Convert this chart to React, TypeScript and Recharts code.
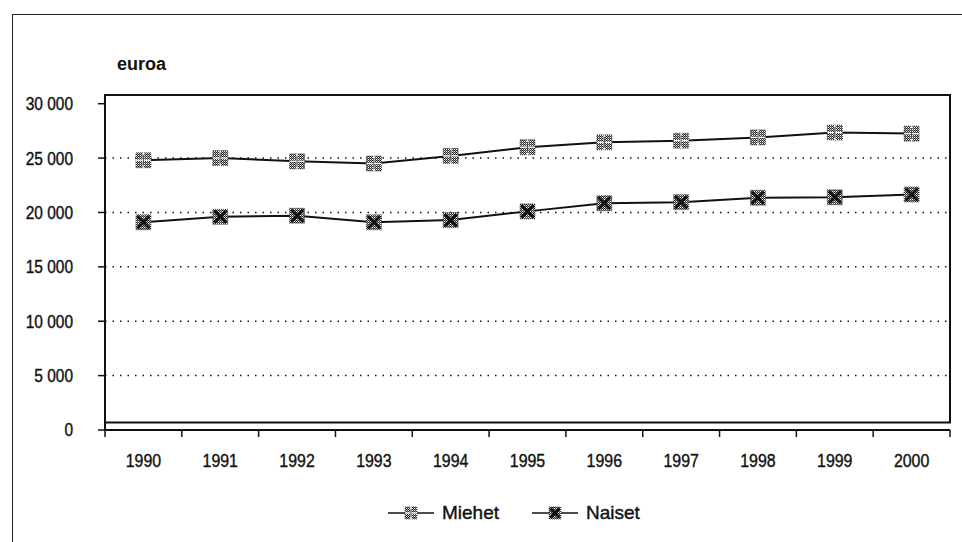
import {
  LineChart,
  Line,
  XAxis,
  YAxis,
  ReferenceArea,
  ReferenceLine,
} from "recharts"

const years = [1990, 1991, 1992, 1993, 1994, 1995, 1996, 1997, 1998, 1999, 2000]
const miehet = [24800, 25000, 24700, 24500, 25200, 26000, 26450, 26600, 26900, 27350, 27250]
const naiset = [19100, 19600, 19700, 19100, 19300, 20100, 20850, 20950, 21350, 21400, 21650]
const yTicks = [0, 5000, 10000, 15000, 20000, 25000, 30000]
const gridValues = [5000, 10000, 15000, 20000, 25000]
const boundaryTicks = [1989.5, 1990.5, 1991.5, 1992.5, 1993.5, 1994.5, 1995.5, 1996.5, 1997.5, 1998.5, 1999.5, 2000.5]
const seriesNames = ["Miehet", "Naiset"]

const data = years.map((year, i) => ({ year, Miehet: miehet[i], Naiset: naiset[i] }))
const xTicks = [...boundaryTicks, ...years].sort((a, b) => a - b)

const FONT = "'Liberation Sans', Arial, sans-serif"
const INK = "#111"
const SQUEEZE = 0.86

const fmt = (v: number) => String(v).replace(/\B(?=(\d{3})+(?!\d))/g, " ")

// half-year ticks are the category boundaries (tick line only), whole years get a label
function YearTick({ x, y, payload }: any) {
  const v = payload.value
  if (!Number.isInteger(v)) {
    return <line x1={x} y1={y} x2={x} y2={y + 7} stroke={INK} strokeWidth={1.5} />
  }
  return (
    <g transform={`translate(${x},${y + 37}) scale(${SQUEEZE},1)`}>
      <text x={0} y={0} textAnchor="middle" fill={INK} stroke={INK} strokeWidth={0.4} fontSize={18.5} fontFamily={FONT}>
        {v}
      </text>
    </g>
  )
}

function ValueTick({ x, y, payload }: any) {
  return (
    <g transform={`translate(${x},${y}) scale(${SQUEEZE},1)`}>
      <text x={0} y={0} dy="0.36em" textAnchor="end" fill={INK} stroke={INK} strokeWidth={0.4} fontSize={18} fontFamily={FONT}>
        {fmt(payload.value)}
      </text>
    </g>
  )
}

function MiehetMark({ cx, cy, size = 15 }: any) {
  const h = size / 2
  return (
    <g>
      <rect x={cx - h} y={cy - h} width={size} height={size} fill="url(#dither)" stroke="#333" strokeWidth={0.8} strokeDasharray="1 1" />
      <line x1={cx} y1={cy - h} x2={cx} y2={cy + h} stroke="#fff" strokeWidth={1.6} />
      <line x1={cx - h} y1={cy} x2={cx + h} y2={cy} stroke="#fff" strokeWidth={1.2} />
      <line x1={cx} y1={cy - h + 2} x2={cx} y2={cy + h - 2} stroke={INK} strokeWidth={0.8} />
    </g>
  )
}

function NaisetMark({ cx, cy, size = 15 }: any) {
  const h = size / 2
  return (
    <g>
      <rect x={cx - h} y={cy - h} width={size} height={size} fill="url(#dither)" stroke="#333" strokeWidth={0.8} strokeDasharray="1 1" />
      <line x1={cx - h + 1.5} y1={cy - h + 1.5} x2={cx + h - 1.5} y2={cy + h - 1.5} stroke={INK} strokeWidth={3} />
      <line x1={cx + h - 1.5} y1={cy - h + 1.5} x2={cx - h + 1.5} y2={cy + h - 1.5} stroke={INK} strokeWidth={3} />
    </g>
  )
}

const marks: Record<string, any> = { Miehet: MiehetMark, Naiset: NaisetMark }

function LegendRow() {
  return (
    <div style={{ position: "absolute", left: 388, top: 503, display: "flex" }}>
      {seriesNames.map((name) => {
        const Mark = marks[name]
        return (
          <div key={name} style={{ display: "flex", alignItems: "center", marginRight: 33 }}>
            <svg width={46} height={16}>
              <line x1={0} y1={8} x2={46} y2={8} stroke={INK} strokeWidth={1.6} />
              <Mark cx={23} cy={8} size={12} />
            </svg>
            <span
              style={{
                marginLeft: 8,
                fontSize: 19,
                lineHeight: "20px",
                color: INK,
                fontFamily: FONT,
                WebkitTextStroke: "0.4px #111",
              }}
            >
              {name}
            </span>
          </div>
        )
      })}
    </div>
  )
}

export default function App() {
  return (
    <div style={{ position: "absolute", left: 0, top: 0, width: 962, height: 542, background: "#fff", overflow: "hidden" }}>
      <svg width={0} height={0} style={{ position: "absolute" }}>
        <defs>
          <pattern id="dither" width={2} height={2} patternUnits="userSpaceOnUse">
            <rect width={2} height={2} fill="#fff" />
            <rect width={1} height={1} fill="#222" />
            <rect x={1} y={1} width={1} height={1} fill="#333" />
            <rect x={1} y={0} width={1} height={1} fill="#999" />
          </pattern>
        </defs>
      </svg>
      <div
        style={{
          position: "absolute",
          left: 12,
          top: 14,
          width: 960,
          height: 540,
          borderTop: "1.5px solid #222",
          borderLeft: "1.5px solid #222",
        }}
      />
      <div
        style={{
          position: "absolute",
          left: 117,
          top: 54,
          fontFamily: FONT,
          fontSize: 18,
          fontWeight: 700,
          color: INK,
        }}
      >
        euroa
      </div>
      <LineChart
        width={962}
        height={542}
        data={data}
        margin={{ top: 95, right: 12, bottom: 82, left: 25 }}
        style={{ position: "absolute", left: 0, top: 0 }}
      >
        <XAxis
          type="number"
          dataKey="year"
          domain={[1989.5, 2000.5]}
          ticks={xTicks}
          interval={0}
          height={30}
          tickSize={0}
          tickMargin={0}
          tickLine={false}
          axisLine={{ stroke: INK, strokeWidth: 2 }}
          tick={<YearTick />}
        />
        <YAxis
          type="number"
          domain={[0, 30800]}
          ticks={yTicks}
          interval={0}
          width={80}
          tickSize={7}
          tickMargin={25}
          axisLine={{ stroke: INK, strokeWidth: 2 }}
          tickLine={{ stroke: INK, strokeWidth: 1.5 }}
          tick={<ValueTick />}
        />
        <ReferenceArea
          y1={700}
          y2={30800}
          fill="none"
          stroke={INK}
          strokeWidth={2}
          ifOverflow="visible"
        />
        {gridValues.map((v) => (
          <ReferenceLine
            key={v}
            y={v}
            stroke={INK}
            strokeWidth={1.5}
            strokeDasharray="1.5 6"
          />
        ))}
        {seriesNames.map((name) => {
          const Mark = marks[name]
          return (
            <Line
              key={name}
              dataKey={name}
              stroke={INK}
              strokeWidth={2}
              isAnimationActive={false}
              dot={(p: any) => <Mark key={p.key} cx={p.cx} cy={p.cy} />}
            />
          )
        })}
      </LineChart>
      <LegendRow />
    </div>
  )
}
